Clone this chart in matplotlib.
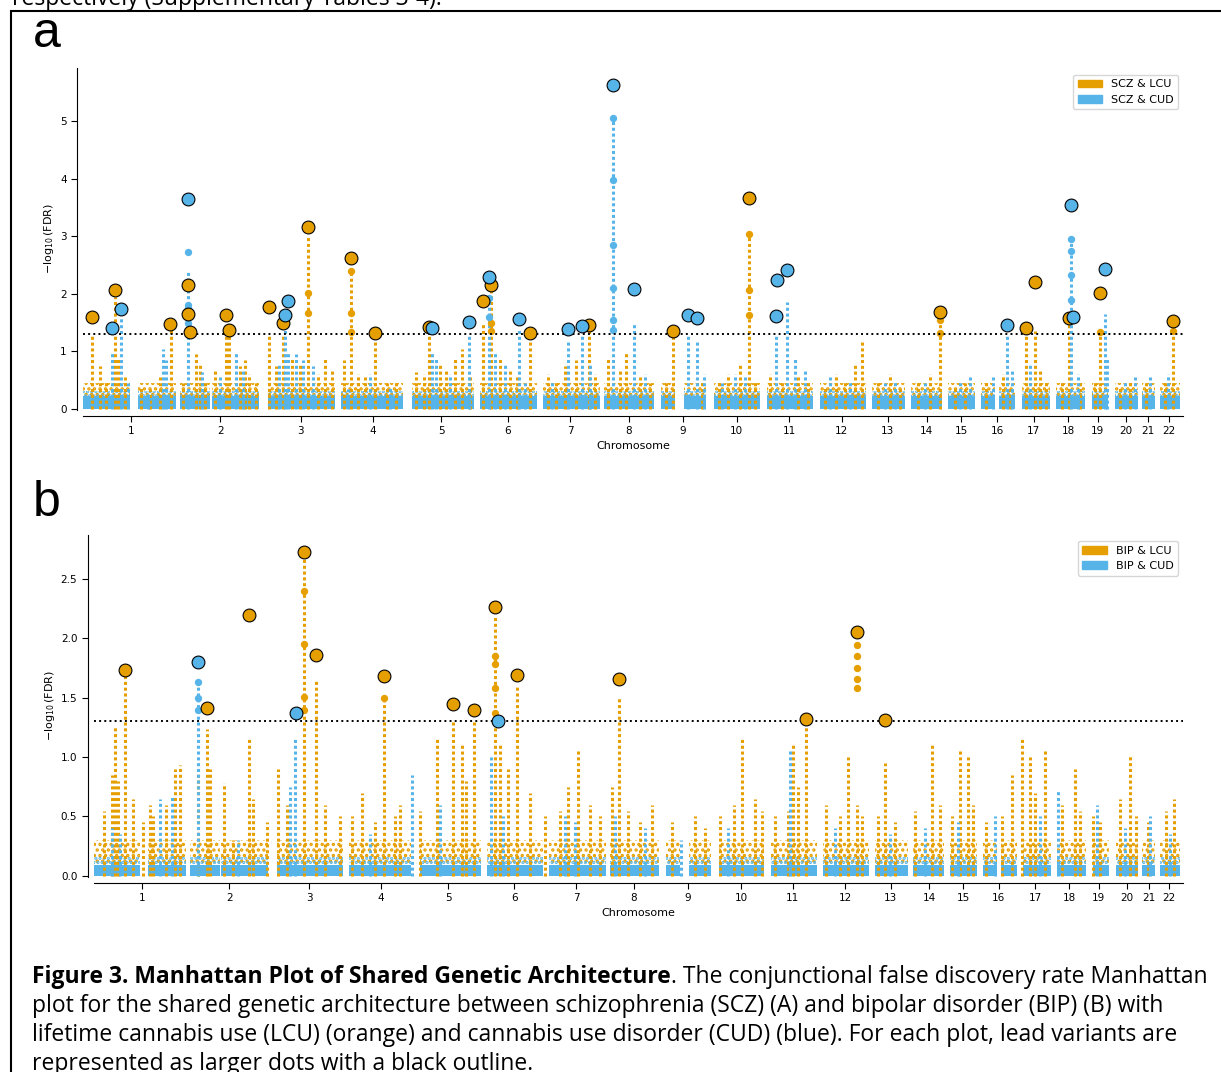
import matplotlib
matplotlib.use('Agg')
import matplotlib.pyplot as plt
from matplotlib.patches import Patch, Rectangle

ORANGE = '#E69F00'
BLUE = '#56B4E9'
plt.rcParams['hatch.linewidth'] = 1.6

# chromosome layout along the genome axis (cumulative position, Mb-like units)
chrom_labels = [str(i) for i in range(1, 23)]
chrom_ticks = [127, 359, 570, 759, 938, 1112, 1276, 1429, 1571, 1712, 1849,
               1987, 2108, 2210, 2300, 2394, 2490, 2580, 2658, 2732, 2790, 2844]
chrom_blocks = [(0, 123), (144, 244), (254, 333), (338, 461), (484, 660),
                (676, 838), (862, 1024), (1040, 1189), (1205, 1354),
                (1365, 1496), (1514, 1550), (1574, 1632), (1653, 1773),
                (1791, 1912), (1930, 2051), (2066, 2153), (2168, 2250),
                (2265, 2336), (2352, 2388), (2399, 2441), (2459, 2533),
                (2548, 2624), (2642, 2684), (2703, 2763), (2773, 2808),
                (2821, 2873)]
x_max = 2881
threshold = 1.301

# ---- panel a: SCZ ----
a_or_x = [24, 45, 60, 84, 92, 110, 152, 176, 202, 231,
          262, 296, 307, 320, 346, 375, 383, 411, 424, 435, 453,
          487, 506, 524, 548, 569, 590, 616, 634, 652,
          684, 702, 721, 739, 765, 797, 820,
          872, 893, 907, 935, 951, 975, 993, 1014,
          1048, 1069, 1093, 1119, 1137, 1171,
          1218, 1239, 1263, 1292, 1326, 1341,
          1375, 1407, 1423, 1459, 1485,
          1527, 1546, 1621,
          1666, 1690, 1721, 1745, 1761,
          1800, 1831, 1873, 1900,
          1944, 1973, 1996, 2023, 2041,
          2083, 2114, 2140,
          2188, 2219, 2245,
          2285, 2311,
          2365, 2410, 2428,
          2470, 2494, 2507, 2522,
          2564, 2582, 2611,
          2651, 2664,
          2716, 2742,
          2784,
          2834, 2855]
a_or_h = [1.3, 0.75, 0.5, 1.95, 0.9, 0.55, 0.4, 0.35, 0.55, 1.4,
          0.45, 0.95, 0.8, 0.5, 0.7, 1.3, 1.3, 0.75, 0.85, 0.6, 0.45,
          1.3, 0.75, 1.3, 0.9, 0.8, 3.0, 0.6, 0.9, 0.7,
          0.85, 2.45, 0.6, 0.55, 1.25, 0.45, 0.5,
          0.65, 0.6, 1.35, 0.8, 0.7, 0.9, 1.05, 0.55,
          1.5, 2.05, 0.9, 0.7, 0.55, 1.3,
          0.6, 0.5, 0.75, 0.85, 1.35, 0.6,
          0.9, 0.7, 1.0, 0.55, 0.45,
          0.5, 1.3, 0.45,
          0.5, 0.6, 0.8, 3.05, 0.5,
          0.6, 0.5, 0.55, 0.45,
          0.4, 0.6, 0.5, 0.8, 1.2,
          0.5, 0.6, 0.4,
          0.5, 0.6, 1.55,
          0.4, 0.45,
          0.5, 0.6, 0.4,
          1.35, 1.35, 0.7, 0.5,
          0.5, 1.55, 0.45,
          0.5, 1.35,
          0.4, 0.5,
          0.45,
          0.5, 1.35]
a_bl_x = [76, 100, 118, 170, 210, 218,
          275, 312, 359, 401, 419,
          514, 529, 537, 558, 576, 603,
          694, 752, 804,
          914, 925, 962, 1011,
          1064, 1079, 1106, 1142, 1158,
          1229, 1271, 1307, 1328,
          1388, 1443, 1472,
          1585, 1608, 1626,
          1674, 1708, 1734,
          1815, 1844, 1865, 1891,
          1957, 2009,
          2101, 2127,
          2205,
          2297, 2323,
          2384, 2420, 2433,
          2480,
          2588, 2606,
          2677, 2682,
          2729, 2755,
          2795,
          2842]
a_bl_h = [1.0, 1.6, 0.45, 0.3, 1.05, 0.85,
          2.4, 0.65, 0.55, 1.0, 0.7,
          0.8, 1.4, 1.0, 0.95, 0.85, 0.75,
          0.35, 0.6, 0.4,
          1.0, 0.9, 0.6, 1.3,
          1.95, 1.0, 0.8, 1.4, 0.45,
          0.5, 1.2, 1.3, 0.8,
          5.1, 1.5, 0.6,
          1.3, 1.2, 0.6,
          0.45, 0.6, 0.55,
          1.3, 1.85, 0.9, 0.7,
          0.55, 0.5,
          0.45, 0.5,
          0.45,
          0.5, 0.55,
          0.55, 1.3, 0.7,
          0.8,
          2.95, 0.6,
          1.65, 0.9,
          0.5, 0.55,
          0.55,
          0.6]
a_sig_or_x = [590, 590, 702, 702, 702, 1745, 1745, 1745, 1069, 1069, 2245, 2245, 2664, 2855]
a_sig_or_y = [2.02, 1.66, 2.4, 1.67, 1.34, 3.03, 2.06, 1.63, 1.5, 1.35, 1.55, 1.32, 1.33, 1.35]
a_sig_bl_x = [1388, 1388, 1388, 1388, 1388, 1388, 275, 275, 275, 275, 275,
              2588, 2588, 2588, 2588, 1064, 1064]
a_sig_bl_y = [5.05, 3.98, 2.85, 2.1, 1.55, 1.38, 2.73, 1.8, 1.75, 1.6, 1.5,
              2.95, 2.75, 2.32, 1.9, 1.92, 1.6]
a_lead_or_x = [24, 84, 229, 275, 275, 280, 374, 382, 488, 525, 589, 702, 765,
               906, 1048, 1069, 1171, 1325, 1545, 1744, 2244, 2470, 2493,
               2582, 2664, 2855]
a_lead_or_y = [1.59, 2.06, 1.48, 2.15, 1.65, 1.33, 1.63, 1.37, 1.77, 1.49,
               3.16, 2.62, 1.32, 1.42, 1.87, 2.15, 1.32, 1.46, 1.35, 3.66,
               1.68, 1.41, 2.2, 1.58, 2.01, 1.53]
a_lead_bl_x = [77, 99, 275, 529, 538, 914, 1011, 1063, 1142, 1270, 1307, 1388,
               1443, 1585, 1608, 1818, 1844, 1815, 2420, 2588, 2592, 2677]
a_lead_bl_y = [1.40, 1.74, 3.65, 1.64, 1.87, 1.41, 1.51, 2.29, 1.56, 1.39,
               1.44, 5.63, 2.08, 1.63, 1.58, 2.24, 2.41, 1.61, 1.46, 3.54,
               1.60, 2.43]

# ---- panel b: BIP ----
b_or_x = [27, 49, 56, 64, 83, 104, 130, 149, 157, 191, 215, 228,
          276, 300, 308, 345, 369, 411, 421, 458,
          488, 511, 556, 588, 612, 652,
          683, 710, 744, 768, 797, 810,
          863, 908, 950, 974, 985, 1006,
          1062, 1075, 1096, 1120, 1155,
          1194, 1233, 1255, 1281, 1313, 1339,
          1371, 1389, 1413, 1445, 1477,
          1530, 1591, 1617,
          1656, 1693, 1715, 1749, 1768,
          1802, 1836, 1850, 1863, 1884,
          1937, 1974, 1995, 2019, 2032,
          2074, 2093, 2119,
          2172, 2217, 2238,
          2270, 2291, 2312, 2326,
          2360, 2402, 2429,
          2455, 2477, 2490, 2516,
          2561, 2596, 2609,
          2643, 2662,
          2714, 2741, 2757,
          2789,
          2836, 2857]
b_or_h = [0.55, 0.85, 1.25, 0.8, 1.7, 0.65, 0.45, 0.6, 0.5, 0.6, 0.9, 0.93,
          0.9, 1.24, 0.9, 0.78, 0.3, 1.15, 0.65, 0.45,
          0.9, 0.6, 2.7, 1.65, 0.6, 0.5,
          0.5, 0.7, 0.45, 1.5, 0.5, 0.6,
          0.55, 1.15, 1.3, 1.1, 0.8, 1.3,
          2.2, 1.1, 0.9, 1.6, 0.7,
          0.5, 0.55, 0.75, 1.05, 0.6, 0.5,
          0.75, 1.5, 0.55, 0.45, 0.6,
          0.45, 0.5, 0.4,
          0.5, 0.6, 1.15, 0.65, 0.55,
          0.5, 0.55, 1.1, 0.75, 1.3,
          0.6, 0.5, 1.0, 0.6, 0.5,
          0.5, 0.95, 0.45,
          0.55, 1.12, 0.6,
          0.5, 1.05, 1.0, 0.6,
          0.45, 0.5, 0.85,
          1.15, 1.0, 0.7, 1.05,
          0.6, 0.9, 0.55,
          0.5, 0.45,
          0.65, 1.02, 0.5,
          0.45,
          0.55, 0.65]
b_bl_x = [49, 70, 175, 207, 276, 382, 519, 533, 731, 842, 916, 1051, 1083,
          1246, 1273, 1379, 1458, 1552, 1678, 1842, 1961, 2106, 2199, 2286,
          2384, 2503, 2551, 2654, 2728, 2795, 2847]
b_bl_h = [0.4, 0.35, 0.65, 0.68, 1.63, 0.3, 0.75, 1.15, 0.35, 0.85, 0.6, 1.0,
          0.5, 0.5, 0.45, 0.5, 0.4, 0.3, 0.4, 1.05, 0.4, 0.35, 0.4, 0.45,
          0.5, 0.5, 0.72, 0.6, 0.4, 0.5, 0.35]
b_sig_or_x = [556, 556, 556, 556, 768, 1062, 1062, 1062, 1062,
              2019, 2019, 2019, 2019, 2019]
b_sig_or_y = [2.40, 1.95, 1.51, 1.40, 1.50, 1.85, 1.78, 1.58, 1.37,
              1.58, 1.66, 1.75, 1.85, 1.94]
b_sig_bl_x = [276, 276, 276]
b_sig_bl_y = [1.63, 1.5, 1.4]
b_lead_or_x = [84, 300, 412, 556, 588, 768, 950, 1006, 1062, 1120, 1389,
               1884, 2019, 2093]
b_lead_or_y = [1.73, 1.41, 2.20, 2.73, 1.86, 1.68, 1.45, 1.40, 2.26, 1.69,
               1.66, 1.32, 2.05, 1.31]
b_lead_bl_x = [276, 535, 1068]
b_lead_bl_y = [1.80, 1.37, 1.30]


def manhattan(ax, base, or_x, or_h, bl_x, bl_h,
              sig_or, sig_bl, lead_or, lead_bl, ylim, yticks, yfmt, labels, anchor):
    # base: (solid blue top, speckled blue top, speckled orange top)
    solid, fuzzy, haze = base
    for s, e in chrom_blocks:
        ax.fill_between([s, e], 0, haze, facecolor='none', edgecolor=ORANGE,
                        hatch='...', lw=0, zorder=1)
        ax.fill_between([s, e], 0, fuzzy, facecolor='none', edgecolor=BLUE,
                        hatch='....', lw=0, zorder=1.5)
        ax.fill_between([s, e], 0, solid, color=BLUE, lw=0, zorder=2)
    ax.vlines(or_x, 0, or_h, colors=ORANGE, linewidth=2.2,
              linestyles=(0, (1, 0.9)), zorder=3)
    ax.vlines(bl_x, 0, bl_h, colors=BLUE, linewidth=2.2,
              linestyles=(0, (1, 0.9)), zorder=3)
    ax.scatter(sig_or[0], sig_or[1], s=28, color=ORANGE, lw=0, zorder=4)
    ax.scatter(sig_bl[0], sig_bl[1], s=28, color=BLUE, lw=0, zorder=4)
    ax.axhline(threshold, color='black', ls=':', lw=1.4, zorder=4.5)
    ax.scatter(lead_or[0], lead_or[1], s=85, color=ORANGE, edgecolors='black',
               linewidths=0.8, zorder=5)
    ax.scatter(lead_bl[0], lead_bl[1], s=85, color=BLUE, edgecolors='black',
               linewidths=0.8, zorder=5)

    ax.set_xlim(0, x_max)
    ax.set_ylim(*ylim)
    ax.set_xticks(chrom_ticks)
    ax.set_xticklabels(chrom_labels)
    ax.set_yticks(yticks)
    ax.set_yticklabels([yfmt.format(v) for v in yticks])
    ax.tick_params(labelsize=7.5, length=4, width=0.8)
    for side in ['top', 'right']:
        ax.spines[side].set_visible(False)
    for side in ['left', 'bottom']:
        ax.spines[side].set_position(('outward', 4.3))
        ax.spines[side].set_linewidth(0.8)
    ax.set_xlabel('Chromosome', fontsize=8, labelpad=3)
    ax.set_ylabel(r'$-\log_{10}$(FDR)', fontsize=8, labelpad=3)
    handles = [Patch(color=ORANGE, label=labels[0]), Patch(color=BLUE, label=labels[1])]
    ax.legend(handles=handles, loc='upper right', bbox_to_anchor=anchor,
              fontsize=8, frameon=True, borderaxespad=0, handlelength=2.2)


fig = plt.figure(figsize=(12.21, 10.72), dpi=100)

ax_a = fig.add_axes([83 / 1221, 1 - 410 / 1072, 1100 / 1221, 342 / 1072])
manhattan(ax_a, (0.22, 0.32, 0.45), a_or_x, a_or_h, a_bl_x, a_bl_h,
          (a_sig_or_x, a_sig_or_y), (a_sig_bl_x, a_sig_bl_y),
          (a_lead_or_x, a_lead_or_y), (a_lead_bl_x, a_lead_bl_y),
          (-0.017, 5.92), [0, 1, 2, 3, 4, 5], '{:d}',
          ['SCZ & LCU', 'SCZ & CUD'], (0.9955, 0.98))

ax_b = fig.add_axes([93.7 / 1221, 1 - 877 / 1072, 1089.3 / 1221, 342 / 1072])
manhattan(ax_b, (0.09, 0.16, 0.3), b_or_x, b_or_h, b_bl_x, b_bl_h,
          (b_sig_or_x, b_sig_or_y), (b_sig_bl_x, b_sig_bl_y),
          (b_lead_or_x, b_lead_or_y), (b_lead_bl_x, b_lead_bl_y),
          (-0.01, 2.87), [0.0, 0.5, 1.0, 1.5, 2.0, 2.5], '{:.1f}',
          ['BIP & LCU', 'BIP & CUD'], (0.9954, 0.982))

# document frame and panel letters
fig.add_artist(Rectangle((11 / 1221, -0.05), 1.05, 1 - 11 / 1072 + 0.05,
                         transform=fig.transFigure, fill=False, lw=1.5,
                         edgecolor='black'))
fig.text(33 / 1221, 1 - 47 / 1072, 'a', fontsize=36, family='Liberation Sans', va='baseline')
fig.text(33 / 1221, 1 - 516 / 1072, 'b', fontsize=36, family='Liberation Sans', va='baseline')

# surrounding document text, sized so the first caption line spans the box
cap_font = 'Open Sans'
x0 = 32 / 1221
line1_end = 1208
fig.canvas.draw()
renderer = fig.canvas.get_renderer()
probe_b = fig.text(0, 0, 'Figure 3. Manhattan Plot of Shared Genetic Architecture',
                   fontsize=10, family=cap_font, weight='bold')
probe_r = fig.text(0, 0, '. The conjunctional false discovery rate Manhattan',
                   fontsize=10, family=cap_font)
w10 = probe_b.get_window_extent(renderer).width + probe_r.get_window_extent(renderer).width
probe_b.remove()
probe_r.remove()
cap_size = 10 * (line1_end - 32) / w10

fig.text(12 / 1221, 1 - 5 / 1072, 'respectively (Supplementary Tables 3-4).',
         fontsize=cap_size, family=cap_font, va='baseline')
bold = fig.text(x0, 1 - 983 / 1072, 'Figure 3. Manhattan Plot of Shared Genetic Architecture',
                fontsize=cap_size, family=cap_font, weight='bold', va='baseline')
bb = bold.get_window_extent(renderer)
fig.text(bb.x1 / 1221, 1 - 983 / 1072,
         '. The conjunctional false discovery rate Manhattan',
         fontsize=cap_size, family=cap_font, va='baseline')
cap_lines = ['plot for the shared genetic architecture between schizophrenia (SCZ) (A) and bipolar disorder (BIP) (B) with',
             'lifetime cannabis use (LCU) (orange) and cannabis use disorder (CUD) (blue). For each plot, lead variants are',
             'represented as larger dots with a black outline.']
for i, line in enumerate(cap_lines):
    fig.text(x0, 1 - (1012 + 29 * i) / 1072, line, fontsize=cap_size,
             family=cap_font, va='baseline')

fig.savefig('out.png', dpi=100)
